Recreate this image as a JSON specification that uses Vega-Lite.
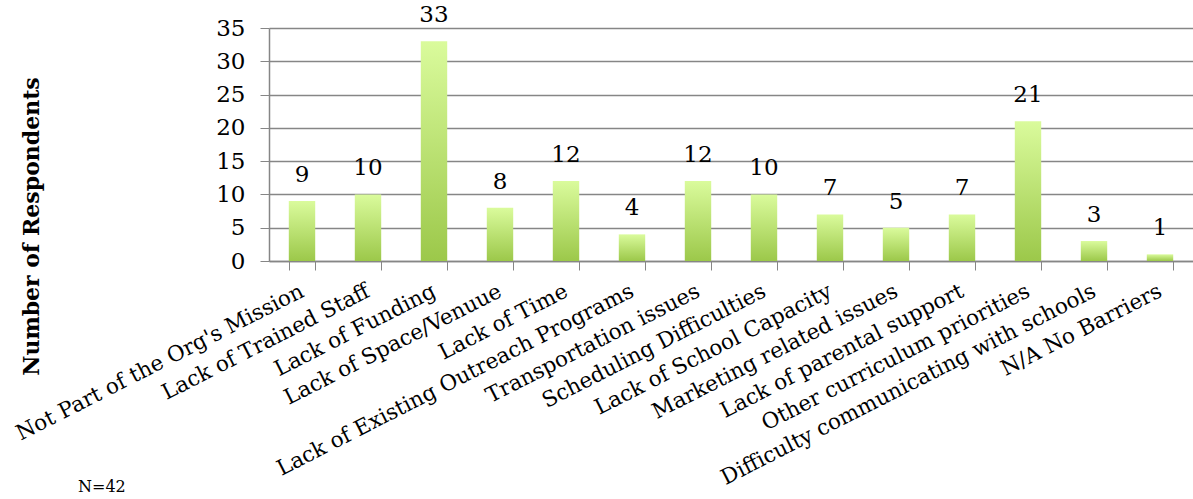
{
  "$schema": "https://vega.github.io/schema/vega-lite/v6.json",
  "autosize": {"type": "none"},
  "padding": {"left": 269, "top": 28, "right": 0, "bottom": 238},
  "width": 924,
  "height": 233,
  "background": "white",
  "title": {
    "text": "N=42",
    "orient": "bottom",
    "anchor": "start",
    "frame": "group",
    "dx": -191,
    "offset": -10,
    "font": "DejaVu Serif",
    "fontSize": 16,
    "fontWeight": "normal",
    "color": "#000000"
  },
  "data": {
    "values": [
      {"barrier": "Not Part of the Org's Mission", "count": 9},
      {"barrier": "Lack of Trained Staff", "count": 10},
      {"barrier": "Lack of Funding", "count": 33},
      {"barrier": "Lack of Space/Venuue", "count": 8},
      {"barrier": "Lack of Time", "count": 12},
      {"barrier": "Lack of Existing Outreach Programs", "count": 4},
      {"barrier": "Transportation issues", "count": 12},
      {"barrier": "Scheduling Difficulties", "count": 10},
      {"barrier": "Lack of School Capacity", "count": 7},
      {"barrier": "Marketing related issues", "count": 5},
      {"barrier": "Lack of parental support", "count": 7},
      {"barrier": "Other curriculum priorities", "count": 21},
      {"barrier": "Difficulty communicating with schools", "count": 3},
      {"barrier": "N/A No Barriers", "count": 1}
    ]
  },
  "encoding": {
    "x": {
      "field": "barrier",
      "type": "nominal",
      "sort": null,
      "scale": {"paddingInner": 0.6, "paddingOuter": 0.3},
      "axis": {
        "title": null,
        "labelAngle": -27,
        "labelAlign": "right",
        "labelBaseline": "middle",
        "labelFont": "DejaVu Serif",
        "labelFontSize": 21.5,
        "labelColor": "#000000",
        "labelPadding": 20,
        "labelOverlap": false,
        "labelLimit": 0,
        "tickBand": "extent",
        "tickSize": 9,
        "tickColor": "#868686",
        "domainColor": "#868686",
        "domainWidth": 1.5,
        "grid": false
      }
    },
    "y": {
      "field": "count",
      "type": "quantitative",
      "scale": {"domain": [0, 35], "nice": false},
      "axis": {
        "values": [0, 5, 10, 15, 20, 25, 30, 35],
        "title": "Number of Respondents",
        "titleFont": "DejaVu Serif",
        "titleFontSize": 22,
        "titleFontWeight": "bold",
        "titleColor": "#000000",
        "titleX": -238,
        "titleY": 198,
        "titleAlign": "center",
        "titleBaseline": "middle",
        "titleAngle": -90,
        "labelFont": "DejaVu Serif",
        "labelFontSize": 23,
        "labelColor": "#000000",
        "labelPadding": 15,
        "tickSize": 9,
        "tickColor": "#868686",
        "domainColor": "#868686",
        "domainWidth": 1.5,
        "grid": true,
        "gridColor": "#868686",
        "gridWidth": 1.5
      }
    }
  },
  "layer": [
    {
      "mark": {
        "type": "bar",
        "color": {
          "gradient": "linear",
          "x1": 0, "y1": 0, "x2": 0, "y2": 1,
          "stops": [
            {"offset": 0, "color": "#dafb9c"},
            {"offset": 1, "color": "#9cc84a"}
          ]
        }
      }
    },
    {
      "mark": {
        "type": "text",
        "dy": -26,
        "font": "DejaVu Serif",
        "fontSize": 23,
        "color": "#000000"
      },
      "encoding": {"text": {"field": "count", "type": "quantitative"}}
    }
  ],
  "config": {"view": {"stroke": null}}
}
